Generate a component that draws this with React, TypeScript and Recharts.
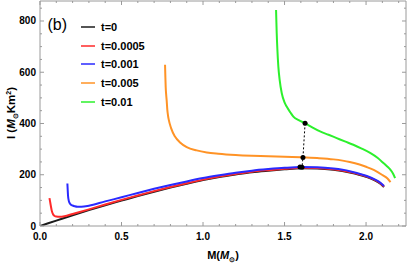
import React from 'react';
import { LineChart, Line, XAxis, YAxis, Legend } from 'recharts';

// I-M curves, values (M in solar masses, I in Msun km^2)
const massT0 = [0, 0.1, 0.2, 0.3, 0.4, 0.5, 0.6, 0.7, 0.8, 0.9, 1.0, 1.1, 1.2, 1.3, 1.4, 1.5, 1.6, 1.7, 1.8, 1.9, 2.0, 2.05, 2.09, 2.11];
const inertiaT0 = [0, 21, 42, 62, 81, 99, 117, 134, 150, 165, 179, 191, 201, 210, 216, 221, 225, 224, 219, 209, 192, 179, 164, 152];

const massT1 = [0.058, 0.062, 0.066, 0.072, 0.08, 0.09, 0.1, 0.12, 0.15, 0.2, 0.3, 0.4, 0.5, 0.6, 0.7, 0.8, 0.9, 1.0, 1.1, 1.2, 1.3, 1.4, 1.5, 1.6, 1.7, 1.8, 1.9, 2.0, 2.05, 2.09, 2.11];
const inertiaT1 = [109, 95, 80, 60, 46, 39, 37, 36, 38, 47, 65, 84, 102, 119, 136, 152, 167, 181, 193, 203, 212, 218, 223, 227, 226, 221, 211, 194, 181, 166, 154];

const massT2 = [0.168, 0.17, 0.172, 0.176, 0.182, 0.19, 0.2, 0.213, 0.23, 0.254, 0.3, 0.4, 0.5, 0.6, 0.7, 0.8, 0.9, 1.0, 1.1, 1.2, 1.3, 1.4, 1.5, 1.6, 1.7, 1.8, 1.9, 2.0, 2.05, 2.09, 2.11];
const inertiaT2 = [166, 140, 118, 100, 89, 83, 80, 77, 75, 75, 79, 96, 112, 129, 145, 160, 174, 187, 198, 208, 216, 222, 227, 230, 229, 224, 214, 196, 183, 168, 156];

const massT3 = [0.767, 0.769, 0.771, 0.774, 0.777, 0.781, 0.785, 0.79, 0.804, 0.828, 0.859, 0.9, 0.961, 1.023, 1.094, 1.2, 1.3, 1.4, 1.5, 1.6, 1.7, 1.8, 1.9, 1.96, 2.0, 2.05, 2.1, 2.13, 2.15];
const inertiaT3 = [629, 582, 542, 512, 490, 453, 432, 414, 382, 349, 326, 308, 295, 287, 282, 277, 274, 272, 270, 268, 265, 260, 250, 240, 231, 218, 199, 186, 171];

const massT4 = [1.448, 1.45, 1.452, 1.456, 1.462, 1.47, 1.483, 1.5, 1.513, 1.535, 1.554, 1.59, 1.626, 1.67, 1.718, 1.77, 1.82, 1.87, 1.922, 1.97, 2.025, 2.07, 2.106, 2.13, 2.15, 2.165, 2.178];
const inertiaT4 = [843, 795, 752, 690, 622, 570, 518, 482, 466, 444, 427, 412, 401, 385, 369, 356, 343, 330, 317, 303, 285, 266, 246, 232, 219, 205, 187];

// maximum-mass points joined by the dotted line
const peakMass = [1.595, 1.607, 1.613, 1.626];
const peakInertia = [230, 229, 267, 401];

const xTicks = [0, 0.1, 0.2, 0.3, 0.4, 0.5, 0.6, 0.7, 0.8, 0.9, 1, 1.1, 1.2, 1.3, 1.4, 1.5, 1.6, 1.7, 1.8, 1.9, 2, 2.1, 2.2];
const xMajor = [0, 0.5, 1, 1.5, 2];
const yTicks = [0, 50, 100, 150, 200, 250, 300, 350, 400, 450, 500, 550, 600, 650, 700, 750, 800, 850];
const yMajor = [0, 200, 400, 600, 800];

const FONT = '"Liberation Sans", Arial, sans-serif';
const FRAME = '#9a9a9a';

const toPoints = (m: number[], i: number[]) => m.map((v, k) => ({ m: v, i: i[k] }));

const series = [
  { name: 't=0', color: '#1c1c1c', data: toPoints(massT0, inertiaT0) },
  { name: 't=0.0005', color: '#ff2a2a', data: toPoints(massT1, inertiaT1) },
  { name: 't=0.001', color: '#2a2aff', data: toPoints(massT2, inertiaT2) },
  { name: 't=0.005', color: '#ff9326', data: toPoints(massT3, inertiaT3) },
  { name: 't=0.01', color: '#2cf02c', data: toPoints(massT4, inertiaT4) },
];
const peaks = toPoints(peakMass, peakInertia);

// ticks point inward, majors longer; labels only where wanted
const makeTick = (side: string, majors: number[], labels: boolean) => (props: any) => {
  const { x, y, payload } = props;
  const major = majors.includes(payload.value);
  const len = major ? 4 : 2;
  let line;
  if (side === 'bottom') line = <line x1={x} x2={x} y1={y} y2={y - len} stroke={FRAME} />;
  else if (side === 'top') line = <line x1={x} x2={x} y1={y} y2={y + len} stroke={FRAME} />;
  else if (side === 'left') line = <line x1={x} x2={x + len} y1={y} y2={y} stroke={FRAME} />;
  else line = <line x1={x} x2={x - len} y1={y} y2={y} stroke={FRAME} />;
  let text = null;
  if (labels && major) {
    const style = { fontFamily: FONT, fontSize: 10, fontWeight: 700, fill: '#000' };
    text = side === 'bottom'
      ? <text x={x} y={y + 14} textAnchor="middle" style={style}>{payload.value.toFixed(1)}</text>
      : <text x={x - 4} y={y + 3.5} textAnchor="end" style={style}>{payload.value}</text>;
  }
  return <g>{line}{text}</g>;
};

const XTitle = () => (
  <text x={223} y={259} textAnchor="middle" style={{ fontFamily: FONT, fontSize: 11, fontWeight: 700, fill: '#000' }}>
    M(<tspan fontStyle="italic">M</tspan><tspan fontSize={7} dy={3}>⊙</tspan><tspan dy={-3}>)</tspan>
  </text>
);

const YTitle = () => (
  <text transform="translate(15,113) rotate(-90)" textAnchor="middle" style={{ fontFamily: FONT, fontSize: 11.5, fontWeight: 700, fill: '#000' }}>
    I (<tspan fontStyle="italic">M</tspan><tspan fontSize={7} dy={3}>⊙</tspan><tspan dy={-3}>Km</tspan><tspan fontSize={7} dy={-4}>2</tspan><tspan dy={4}>)</tspan>
  </text>
);

const PanelTag = () => (
  <text x={47.5} y={30} style={{ fontFamily: FONT, fontSize: 16, fill: '#000' }}>(b)</text>
);

const LegendBox = (props: any) => (
  <div style={{ fontFamily: FONT, fontSize: 11, fontWeight: 700, color: '#000' }}>
    {(props.payload || []).filter((p: any) => p.type !== 'none').map((p: any) => (
      <div key={p.value} style={{ display: 'flex', alignItems: 'center', height: 18.6 }}>
        <span style={{ display: 'inline-block', width: 14, height: 2, background: p.color, opacity: 0.75, marginRight: 6 }} />
        <span>{p.value}</span>
      </div>
    ))}
  </div>
);

export default function App() {
  return (
    <div style={{ position: 'absolute', left: 0, top: 0, width: 407, height: 264, background: '#fff' }}>
      <LineChart width={407} height={264} margin={{ top: 0, right: 0, bottom: 0, left: 0 }}>
        <XAxis xAxisId="x" type="number" dataKey="m" domain={[0, 2.245]} allowDataOverflow ticks={xTicks} interval={0}
          height={38} tickSize={0} tickMargin={0} stroke={FRAME} tickLine={false}
          tick={makeTick('bottom', xMajor, true)} label={{ content: () => <XTitle /> }} />
        <XAxis xAxisId="xt" orientation="top" type="number" dataKey="m" domain={[0, 2.245]} allowDataOverflow ticks={xTicks} interval={0}
          height={1} tickSize={0} tickMargin={0} stroke={FRAME} tickLine={false}
          tick={makeTick('top', xMajor, false)} label={{ content: () => <PanelTag /> }} />
        <YAxis yAxisId="y" type="number" domain={[0, 878]} allowDataOverflow ticks={yTicks} interval={0}
          width={40} tickSize={0} tickMargin={0} stroke={FRAME} tickLine={false}
          tick={makeTick('left', yMajor, true)} label={{ content: () => <YTitle /> }} />
        <YAxis yAxisId="yr" orientation="right" type="number" domain={[0, 878]} allowDataOverflow ticks={yTicks} interval={0}
          width={1} tickSize={0} tickMargin={0} stroke={FRAME} tickLine={false}
          tick={makeTick('right', yMajor, false)} />
        {series.map((s) => (
          <Line key={s.name} xAxisId="x" yAxisId="y" data={s.data} dataKey="i" name={s.name} type="monotone"
            stroke={s.color} strokeWidth={2} dot={false} isAnimationActive={false} />
        ))}
        <Line xAxisId="x" yAxisId="y" data={peaks} dataKey="i" name="peaks" type="linear" legendType="none"
          stroke="#000" strokeWidth={1} strokeDasharray="2 2" dot={{ r: 2.5, fill: '#000', stroke: 'none' }}
          isAnimationActive={false} />
        <Legend layout="vertical" align="center" verticalAlign="middle" content={<LegendBox />}
          wrapperStyle={{ left: 81, top: 18, width: 'auto' }} />
      </LineChart>
    </div>
  );
}
